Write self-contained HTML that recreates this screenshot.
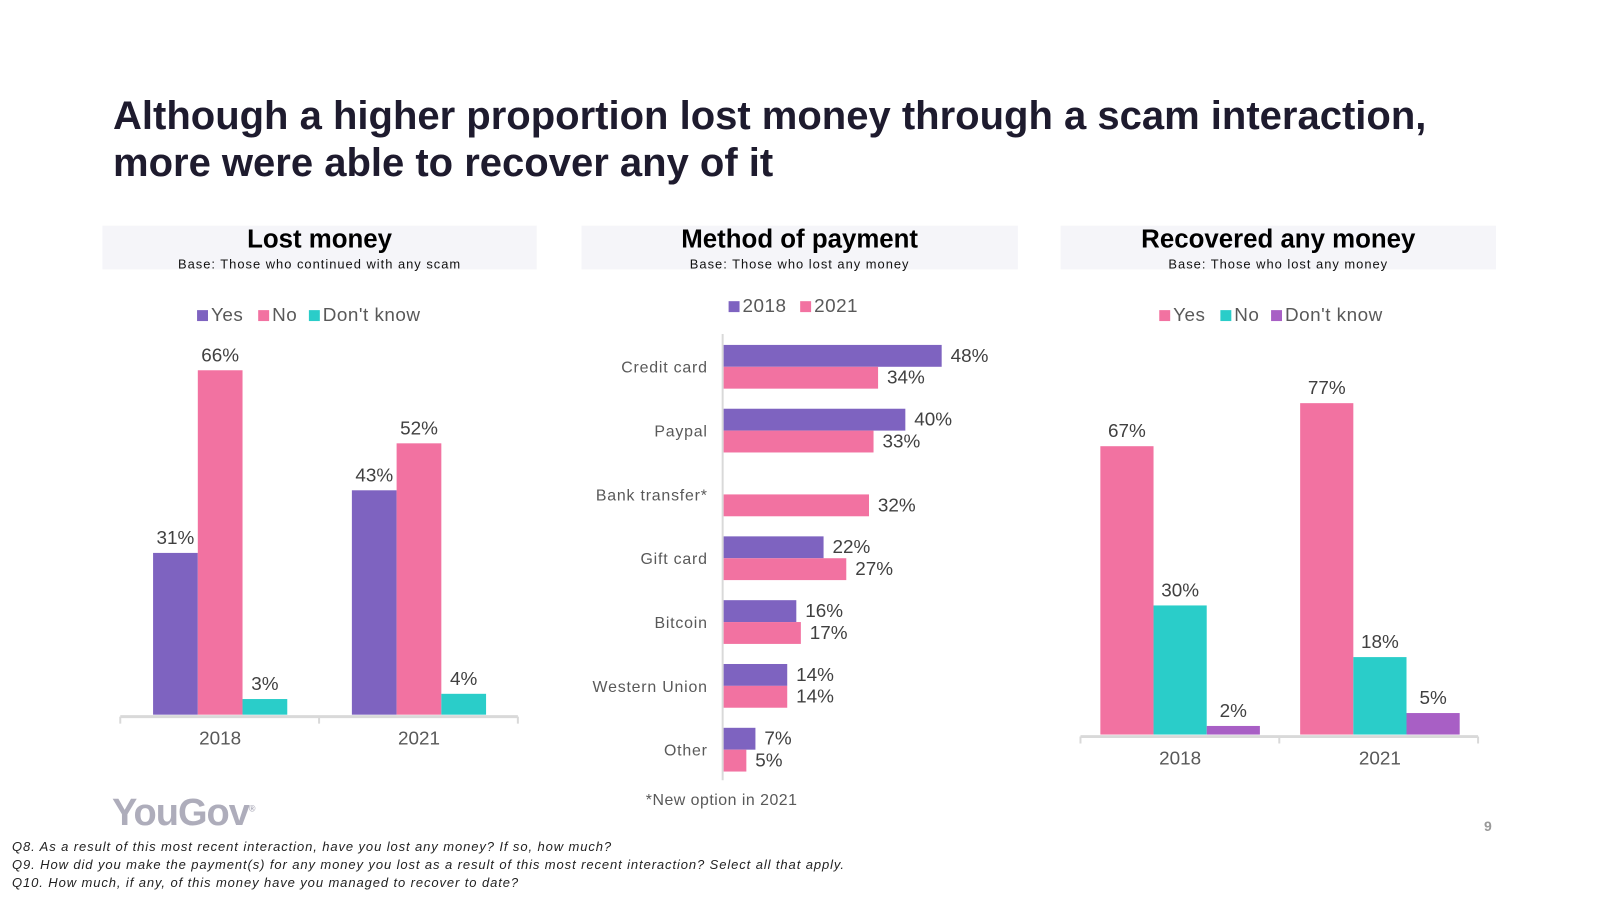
<!DOCTYPE html>
<html><head><meta charset="utf-8"><style>
body{margin:0;width:1600px;height:900px;background:#fff;overflow:hidden;font-family:"Liberation Sans",Arial,sans-serif;position:relative}
.t{position:absolute;white-space:nowrap}
</style></head><body>
<div class="t" style="left:113px;top:93px;font-size:40px;font-weight:bold;color:#1e1b2e;line-height:47px">Although a higher proportion lost money through a scam interaction,<br>more were able to recover any of it</div>
<svg width="1600" height="900" style="position:absolute;left:0;top:0"><g id="c" transform="scale(0.994)"></g></svg>
<div class="t" style="left:112px;top:792px;font-size:38px;font-weight:bold;color:#aeadbb;letter-spacing:-1px">YouGov<sup style="font-size:9px">®</sup></div>
<div class="t" style="left:12px;top:838px;font-size:13px;font-style:italic;color:#222;line-height:18px;letter-spacing:0.9px">Q8. As a result of this most recent interaction, have you lost any money? If so, how much?<br>Q9. How did you make the payment(s) for any money you lost as a result of this most recent interaction? Select all that apply.<br>Q10. How much, if any, of this money have you managed to recover to date?</div>
<div class="t" style="left:1484px;top:818px;font-size:14px;color:#999;font-weight:bold">9</div>
<script>
const lostYears=["2018","2021"];
const lostSeries=["Yes","No","Don't know"];
const lostValues=[[31,43],[66,52],[3,4]];
const payCats=["Credit card","Paypal","Bank transfer*","Gift card","Bitcoin","Western Union","Other"];
const pay2018=[48,40,null,22,16,14,7];
const pay2021=[34,33,32,27,17,14,5];
const recYears=["2018","2021"];
const recSeries=["Yes","No","Don't know"];
const recValues=[[67,77],[30,18],[2,5]];

const svg=document.getElementById('c');const NS="http://www.w3.org/2000/svg";
function el(tag,attrs,txt){const e=document.createElementNS(NS,tag);for(const k in attrs)e.setAttribute(k,attrs[k]);if(txt!==undefined)e.textContent=txt;svg.appendChild(e);return e;}
const PUR="#7e63c0",PINK="#f272a1",TEAL="#2acdc9",DK="#a85fc5";

function panel(x,w,title,base,nm){
 let r=el('rect',{x:x,y:227,width:w,height:44,fill:'#f5f5f9'});
 
 
 let t=el('text',{x:x+w/2,y:249,'text-anchor':'middle','font-size':26,'font-weight':'bold',fill:'#000'},title);
 
 
 let b=el('text',{x:x+w/2,y:270,'text-anchor':'middle','font-size':13,'letter-spacing':1,fill:'#111'},base);
 
 
}
function legend(cx,y,names,cols,nm){
 const widths=names.map(n=>n.length*10.5+30);const tot=widths.reduce((a,b)=>a+b,0);
 let x=cx-tot/2;
 names.forEach((n,i)=>{
  let r=el('rect',{x:x,y:y-11,width:11,height:11,fill:cols[i]});
  
  
  let t=el('text',{x:x+14,y:y,'font-size':19,'letter-spacing':0.5,fill:'#595959'},n);
  
  
  x+=widths[i];
 });
}
function columns(cfg){
 const {years,series,vals,cols,base,scale,x0,x1,groupX,bw,nm}=cfg;
 el('line',{x1:x0,y1:base+2,x2:x1,y2:base+2,stroke:'#d9d9d9','stroke-width':3});
 [x0,(x0+x1)/2,x1].forEach(tx=>el('line',{x1:tx,y1:base+2,x2:tx,y2:base+9,stroke:'#d9d9d9','stroke-width':2}));
 years.forEach((yr,g)=>{
  const gx=groupX[g];
  series.forEach((s,i)=>{
   const v=vals[i][g];const h=v*scale;const x=gx+i*bw;
   let r=el('rect',{x:x,y:base-h,width:bw,height:h,fill:cols[i]});
   
   
   let t=el('text',{x:x+bw/2,y:base-h-9,'text-anchor':'middle','font-size':19,fill:'#404040'},v+'%');
   
   
  });
  let l=el('text',{x:gx+bw*1.5,y:base+30,'text-anchor':'middle','font-size':19,fill:'#595959'},yr);
  
  
 });
}
panel(103,437,'Lost money','Base: Those who continued with any scam','lost-money');
panel(585,439,'Method of payment','Base: Those who lost any money','payment');
panel(1067,438,'Recovered any money','Base: Those who lost any money','recovered');
legend(322,323,lostSeries,[PUR,PINK,TEAL],'lost-money');
legend(805,314,['2018','2021'],[PUR,PINK],'payment');
legend(1290,323,recSeries,[PINK,TEAL,DK],'recovered');
columns({years:lostYears,series:lostSeries,vals:lostValues,cols:[PUR,PINK,TEAL],base:719,scale:5.25,x0:121,x1:521,groupX:[154,354],bw:45,nm:'lost-money'});
columns({years:recYears,series:recSeries,vals:recValues,cols:[PINK,TEAL,DK],base:739,scale:4.33,x0:1087,x1:1487,groupX:[1107,1308],bw:53.5,nm:'recovered'});
const ax=727,hs=4.57,top0=347,pitch=64.2,bh=22;
el('line',{x1:ax,y1:336,x2:ax,y2:785,stroke:'#d9d9d9','stroke-width':2});
payCats.forEach((c,i)=>{
 const y=top0+i*pitch;
 let l=el('text',{x:712,y:y+bh+6,'text-anchor':'end','font-size':16,'letter-spacing':0.8,fill:'#595959'},c);
 
 
 [[pay2018[i],PUR,0,'2018'],[pay2021[i],PINK,bh,'2021']].forEach(([v,col,off,yr])=>{
  if(v===null)return;
  let r=el('rect',{x:ax+1,y:y+off,width:v*hs,height:bh,fill:col});
  
  
  let t=el('text',{x:ax+1+v*hs+9,y:y+off+17,'font-size':19,fill:'#404040'},v+'%');
  
  
 });
});
let fn=el('text',{x:726,y:810,'text-anchor':'middle','font-size':16,'letter-spacing':0.5,fill:'#595959'},'*New option in 2021');


</script>
</body></html>
